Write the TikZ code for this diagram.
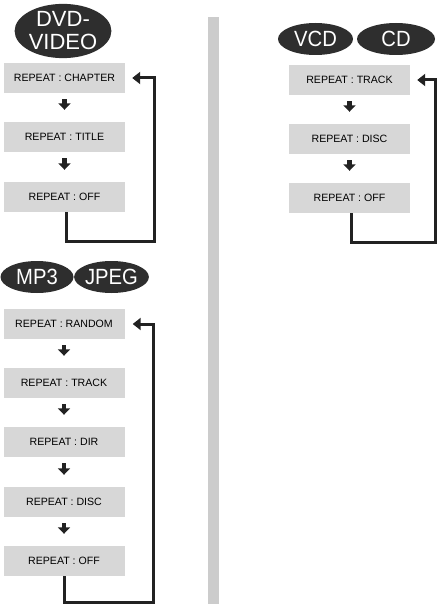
\documentclass[tikz,border=0pt]{standalone}
\usepackage{fontspec}
\setmainfont{Liberation Sans}
\usepackage{graphicx}
\usetikzlibrary{shapes.geometric,arrows.meta,calc}
\definecolor{boxgray}{HTML}{D7D7D7}
\definecolor{ellgray}{HTML}{2E2E2E}
\definecolor{bargray}{HTML}{CCCCCC}
\definecolor{linegray}{HTML}{222222}
\tikzset{
  modebox/.style={fill=boxgray, minimum width=121pt, minimum height=30pt, inner sep=0pt,
    font=\fontsize{10.6}{12}\selectfont},
  disctag/.style={ellipse, fill=ellgray, text=white, inner sep=0pt,
    font=\fontsize{22}{23}\selectfont},
  stepdown/.style={draw=linegray, line width=4.5pt, -{Triangle[length=6.5pt,width=12pt]},
    shorten <=6pt, shorten >=12pt},
  loopline/.style={draw=linegray, line width=3pt, line join=miter,
    -{Triangle[length=8pt,width=12pt]}}
}
\begin{document}
\begin{tikzpicture}[x=1pt,y=-1pt]
\useasboundingbox (0,0) rectangle (437,604);
% separator bar
\fill[bargray] (208,17) rectangle (219,604);

% DVD-VIDEO
\node[disctag, minimum width=92pt, minimum height=48pt, align=center,
  font=\fontsize{22}{23}\selectfont] (dvd) at (63,31) {DVD-\\VIDEO};
\node[modebox] (d1) at (64.5,78) {REPEAT : CHAPTER};
\node[modebox] (d2) at (64.5,137) {REPEAT : TITLE};
\node[modebox] (d3) at (64.5,197) {REPEAT : OFF};
\draw[stepdown] (d1) -- (d2);
\draw[stepdown] (d2) -- (d3);
\coordinate (dR) at (154,241);
\draw[loopline] ([xshift=1.5pt]d3.south) -- ([xshift=1.5pt]d3.south |- dR) -- (dR) |- ([xshift=7pt]d1.east);

% VCD / CD
\node[disctag, minimum width=75pt, minimum height=32pt] (vcd) at (315.5,39) {\scalebox{0.92}[1]{VCD}};
\node[disctag, minimum width=78pt, minimum height=32pt] (cd) at (396,39) {\scalebox{0.92}[1]{CD}};
\node[modebox] (v1) at (349.5,80) {REPEAT : TRACK};
\node[modebox] (v2) at (349.5,139) {REPEAT : DISC};
\node[modebox] (v3) at (349.5,198) {REPEAT : OFF};
\draw[stepdown] (v1) -- (v2);
\draw[stepdown] (v2) -- (v3);
\coordinate (vR) at (435,242);
\draw[loopline] ([xshift=1.5pt]v3.south) -- ([xshift=1.5pt]v3.south |- vR) -- (vR) |- ([xshift=7pt]v1.east);

% MP3 / JPEG
\node[disctag, minimum width=73pt, minimum height=32pt] (mp3) at (37,277) {\scalebox{0.92}[1]{MP3}};
\node[disctag, minimum width=71pt, minimum height=32pt] (jpeg) at (111.5,277) {\scalebox{0.92}[1]{JPEG}};
\node[modebox] (m1) at (64,324) {REPEAT : RANDOM};
\node[modebox] (m2) at (64,383) {REPEAT : TRACK};
\node[modebox] (m3) at (64,442) {REPEAT : DIR};
\node[modebox] (m4) at (64,502) {REPEAT : DISC};
\node[modebox] (m5) at (64,561) {REPEAT : OFF};
\draw[stepdown] (m1) -- (m2);
\draw[stepdown] (m2) -- (m3);
\draw[stepdown] (m3) -- (m4);
\draw[stepdown] (m4) -- (m5);
\coordinate (mR) at (153,602.5);
\draw[loopline] (m5.south) -- (m5.south |- mR) -- (mR) |- ([xshift=8pt]m1.east);
\end{tikzpicture}
\end{document}
